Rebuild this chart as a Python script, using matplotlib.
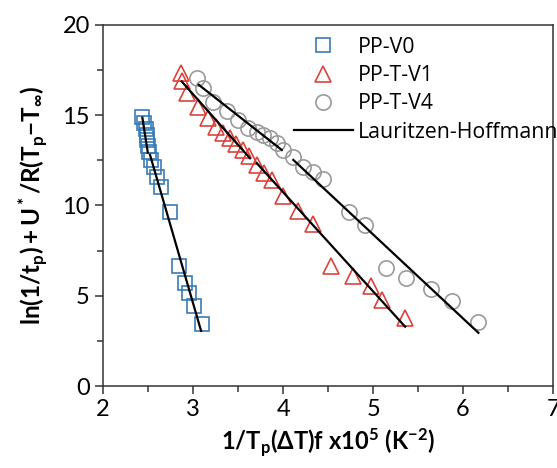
import numpy as np
import matplotlib
matplotlib.use("Agg")
import matplotlib.pyplot as plt

plt.rcParams['font.family'] = ['Lato', 'DejaVu Sans']
plt.rcParams['mathtext.fontset'] = 'custom'
plt.rcParams['mathtext.rm'] = 'Lato'
plt.rcParams['mathtext.bf'] = 'Lato:bold'
plt.rcParams['mathtext.it'] = 'Lato:italic'

# PP-V0 (quadrados azuis)
x_v0 = [2.437, 2.459, 2.474, 2.486, 2.492, 2.497, 2.508, 2.53, 2.57, 2.603,
        2.644, 2.744, 2.841, 2.908, 2.959, 3.008, 3.10]
y_v0 = [14.92, 14.55, 14.22, 13.9, 13.63, 13.3, 12.98, 12.52, 12.12, 11.56,
        11.04, 9.66, 6.66, 5.72, 5.14, 4.43, 3.42]

# PP-T-V1 (triangulos vermelhos)
x_v1 = [2.863, 2.878, 2.933, 3.056, 3.167, 3.256, 3.333, 3.411, 3.478, 3.556,
        3.622, 3.711, 3.789, 3.878, 4.0, 4.167, 4.333, 4.533, 4.778, 4.978,
        5.1, 5.356]
y_v1 = [17.34, 16.9, 16.23, 15.46, 14.85, 14.35, 14.02, 13.74, 13.41, 13.07,
        12.74, 12.24, 11.8, 11.41, 10.53, 9.7, 8.98, 6.65, 6.09, 5.54,
        4.76, 3.77]

# PP-T-V4 (circulos cinza)
x_v4 = [3.041, 3.114, 3.226, 3.374, 3.503, 3.614, 3.708, 3.781, 3.856, 3.93,
        4.003, 4.106, 4.226, 4.328, 4.448, 4.733, 4.914, 5.144, 5.367, 5.641,
        5.874, 6.17]
y_v4 = [17.05, 16.49, 15.75, 15.25, 14.74, 14.28, 14.09, 13.91, 13.72, 13.45,
        13.07, 12.66, 12.15, 11.83, 11.47, 9.66, 8.92, 6.52, 5.97, 5.37,
        4.71, 3.55]

# retas de Lauritzen-Hoffmann (dois regimes por amostra): [x0, x1], [y0, y1]
fit_x = [[2.437, 2.497], [2.522, 3.089],
         [2.874, 3.633], [3.708, 5.356],
         [3.063, 3.986], [4.114, 6.17]]
fit_y = [[14.86, 12.93], [12.8, 3.06],
         [16.86, 12.61], [12.34, 3.29],
         [16.68, 13.07], [12.52, 2.95]]

fig = plt.figure(figsize=(5.57, 4.68), dpi=100)
ax = fig.add_axes([0.185, 0.175, 0.808, 0.772])

ax.plot(x_v0, y_v0, 's', mfc='none', mec='#3a7cb4', mew=1.2, ms=9.5, label='PP-V0')
ax.plot(x_v1, y_v1, '^', mfc='none', mec='#d9433b', mew=1.2, ms=11, label='PP-T-V1')
ax.plot(x_v4, y_v4, 'o', mfc='none', mec='#9a9a9a', mew=1.2, ms=11, label='PP-T-V4')
for i in range(len(fit_x)):
    ax.plot(fit_x[i], fit_y[i], '-', color='black', lw=1.6,
            label='Lauritzen-Hoffmann' if i == 0 else None)

ax.set_xlim(2, 7)
ax.set_ylim(0, 20)
ax.set_xticks([2, 3, 4, 5, 6, 7])
ax.set_yticks([0, 5, 10, 15, 20])
ax.set_xticks(np.arange(2.5, 7, 1), minor=True)
ax.set_yticks(np.arange(2.5, 20, 5), minor=True)
ax.tick_params(which='both', direction='out', top=False, right=False,
               labelsize=17, width=1.1, colors='#333333', labelcolor='black')
ax.tick_params(which='major', length=6)
ax.tick_params(which='minor', length=4)
for s in ax.spines.values():
    s.set_linewidth(1.1)
    s.set_color('#333333')

ax.set_xlabel(r'$\mathbf{1/T_p(\Delta T)f\ x10^5\ (K^{-2})}$', fontsize=17, labelpad=4)
ax.set_ylabel(r'$\mathbf{ln(1/t_p)+U^*/R(T_p\mathbf{-}T_\infty)}$', fontsize=17.5, labelpad=9)

ax.legend(loc='upper left', bbox_to_anchor=(0.405, 0.99), frameon=False,
          prop={'family': 'Open Sans', 'size': 15.3},
          handlelength=2.78, handletextpad=0.235, labelspacing=0.34,
          borderaxespad=0)

fig.savefig('out.png', dpi=100)
